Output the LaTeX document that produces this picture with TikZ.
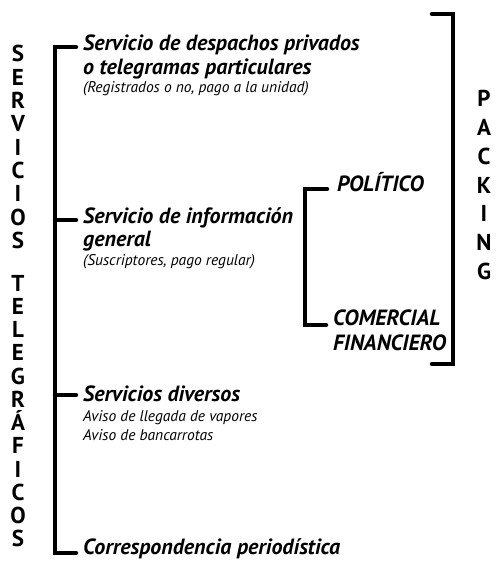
\documentclass[tikz,border=0pt]{standalone}
\usepackage{fontspec}
\setmainfont{PT Sans}
\begin{document}
\begin{tikzpicture}[x=1pt,y=-1pt,
  brk/.style={line width=4.5pt, line cap=round, line join=miter},
  stack/.style={font=\bfseries\fontsize{23}{23}\selectfont, anchor=base, inner sep=0pt},
  head/.style={font=\bfseries\itshape\fontsize{22}{22}\selectfont, anchor=base west, inner sep=0pt},
  sub/.style={font=\itshape\fontsize{15.5}{15.5}\selectfont, anchor=base west, inner sep=0pt}]
\useasboundingbox (0,0) rectangle (495,561);
% vertical titles
\foreach \l [count=\i] in {S,E,R,V,I,C,I,O,S}
  \node[stack] (sv\i) at (18,{62+23.3*(\i-1)}) {\l};
\foreach \l [count=\i] in {T,E,L,E,G,R,Á,F,I,C,O,S}
  \node[stack] (tg\i) at (18,{291+23.27*(\i-1)}) {\l};
\foreach \l [count=\i] in {P,A,C,K,I,N,G}
  \node[stack] (pk\i) at (484,{107+28.7*(\i-1)}) {\l};
% left branch texts
\node[head] (h1) at (83,51) {Servicio de despachos privados};
\node[head] (h1b) at (83,75) {o telegramas particulares};
\node[sub] (s1) at (83,93) {(Registrados o no, pago a la unidad)};
\node[head] (h2) at (83,223) {Servicio de información};
\node[head] (h2b) at (83,246) {general};
\node[sub] (s2) at (83,265) {(Suscriptores, pago regular)};
\node[head] (h3) at (83,401) {Servicios diversos};
\node[sub] (s3) at (83,421) {Aviso de llegada de vapores};
\node[sub] (s3b) at (83,440) {Aviso de bancarrotas};
\node[head] (h4) at (83,554) {Correspondencia periodística};
% right texts
\node[head] (p1) at (337,192) {POLÍTICO};
\node[head] (p2) at (333,325) {COMERCIAL};
\node[head] (p2b) at (333,350) {FINANCIERO};
% bracket coordinates
\coordinate (L1) at (55,47);
\coordinate (L2) at (55,220);
\coordinate (L3) at (55,395);
\coordinate (L4) at (55,553);
\coordinate (A1) at (76,47);
\coordinate (A2) at (76,220);
\coordinate (A3) at (76,395);
\coordinate (A4) at (76,553);
\coordinate (I1) at (305,189);
\coordinate (I2) at (305,325);
\coordinate (B1) at (327,189);
\coordinate (B2) at (326,325);
\coordinate (R1) at (453,14);
\coordinate (R2) at (453,364);
\coordinate (C1) at (432,14);
\coordinate (C2) at (432,364);
% brackets
\draw[brk] (A1) -- (L1) -- (L4) -- (A4);
\draw[brk] (L2) -- (A2);
\draw[brk] (L3) -- (A3);
\draw[brk] (B1) -- (I1) -- (I2) -- (B2);
\draw[brk] (C1) -- (R1) -- (R2) -- (C2);
\end{tikzpicture}
\end{document}
